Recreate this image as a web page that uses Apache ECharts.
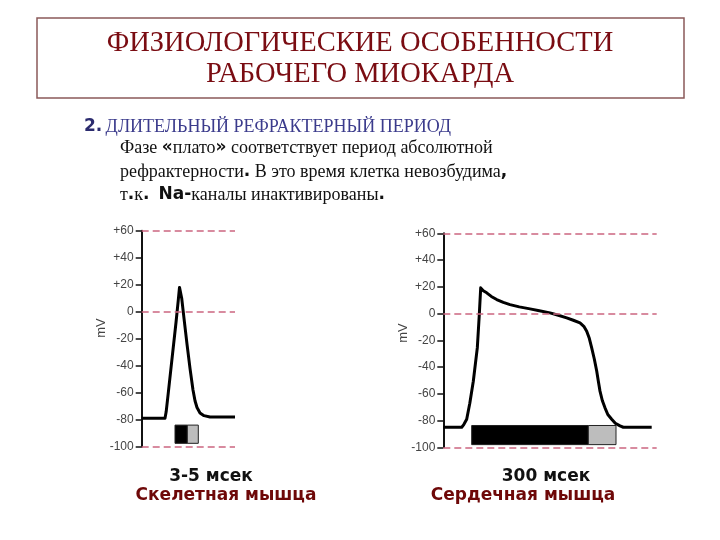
<!DOCTYPE html>
<html><head><meta charset="utf-8">
<script src="https://cdn.jsdelivr.net/npm/echarts@6/dist/echarts.min.js"></script>
<style>html,body{margin:0;padding:0;background:#fff}#c{width:720px;height:540px}</style>
</head><body><div id="c"></div>
<script>
// Y-axis ticks (mV)
var yTicks = [-100, -80, -60, -40, -20, 0, 20, 40, 60];
var dashedLevels = [60, 0, -100];

// Skeletal muscle action potential: time offset (arbitrary units), mV
var skelTime = [0, 23.3, 24.5, 26.3, 30.3, 34.3, 36.5, 37.8, 38.8, 40, 42.3, 45.3, 48.3, 51.3, 53.3, 55.3, 58.3, 62.3, 68.3, 93.3];
var skelMv   = [-79, -79, -74, -62, -35, -8, 8, 18, 18, 10, -5, -24, -42, -58, -66, -71, -75, -77, -78, -78];
// refractory bars: [xStart, xEnd, yTop, yBottom]
var skelAbs = [33.3, 45.6, -84, -97.5];
var skelRel = [45.6, 56.6, -84, -97.5];

// Cardiac muscle action potential
var cardTime = [0, 18.4, 20.5, 23.4, 26.5, 30, 34, 36, 37.4, 40, 43.4, 48, 53.4, 60, 66.7, 76, 86.7, 96, 106.7, 115, 123.4, 130, 136.7, 140.5, 143.4, 146, 148.4, 151, 153.4, 155, 156.7, 159, 161.7, 164.5, 168.4, 172, 176.7, 180, 208.4];
var cardMv   = [-85, -85, -83, -79, -67, -50.6, -25.7, -0.7, 19.2, 17, 15.5, 12.8, 10.5, 8.4, 6.7, 5, 3.5, 2.1, 0.5, -1.3, -3.2, -5, -7, -9.5, -13.2, -18.5, -25.7, -34, -43, -50.5, -58, -65, -70.5, -75.5, -79, -82, -84, -85, -85];
var cardAbs = [28.4, 145, -83.7, -98];
var cardRel = [145, 172.7, -83.7, -98];

function pairs(xs, ys){ return xs.map(function(x,i){return [x, ys[i]];}); }
function bar(b, color){
  return [{coord:[b[0], b[2]], itemStyle:{color:color, borderColor:'#222', borderWidth:1}}, {coord:[b[1], b[3]]}];
}
function yAx(idx){
  return {gridIndex: idx, type:'value', min:-100, max:60, interval:20,
    axisLine:{show:true, lineStyle:{color:'#111', width:2}},
    axisTick:{show:true, length:6, lineStyle:{color:'#111', width:1.5}},
    axisLabel:{margin:8, color:'#444', fontSize:12, fontFamily:'Liberation Sans',
      formatter:function(v){return v>0?('+'+v):String(v);}},
    splitLine:{show:false}};
}
function series(idx, data, bars){
  return {type:'line', xAxisIndex:idx, yAxisIndex:idx, data:data, symbol:'none',
    smooth:false,
    lineStyle:{color:'#000', width:3, join:'round'}, silent:true,
    markLine:{silent:true, symbol:'none', label:{show:false},
      lineStyle:{color:'#cc6680', type:[7,4], width:1.5},
      data: dashedLevels.map(function(v){return {yAxis:v};})},
    markArea:{silent:true, data:bars}};
}

var chart = echarts.init(document.getElementById('c'), null, {renderer:'canvas'});
var bodyFont = '18px "Liberation Serif"';
var boldP = {font:'bold 17px "DejaVu Sans"', fill:'#111'};
chart.setOption({
  animation:false,
  grid:[{left:141.7, top:230.7, width:93.3, height:216},
        {left:443.3, top:233.3, width:213.4, height:214}],
  xAxis:[{gridIndex:0, type:'value', min:0, max:93.3, show:false},
         {gridIndex:1, type:'value', min:0, max:213.4, show:false}],
  yAxis:[yAx(0), yAx(1)],
  series:[series(0, pairs(skelTime, skelMv), [bar(skelAbs,'#000'), bar(skelRel,'#bdbdbd')]),
          series(1, pairs(cardTime, cardMv), [bar(cardAbs,'#000'), bar(cardRel,'#bdbdbd')])],
  graphic:[
    {type:'rect', shape:{x:37, y:18, width:647, height:80}, style:{fill:'#fff', stroke:'#8a5a5a', lineWidth:1.5}},
    {type:'text', x:360, y:44, style:{text:'ФИЗИОЛОГИЧЕСКИЕ ОСОБЕННОСТИ', font:'28.5px "Liberation Serif"', fill:'#7a0c12', align:'center', verticalAlign:'middle'}},
    {type:'text', x:360, y:75, style:{text:'РАБОЧЕГО МИОКАРДА', font:'28.5px "Liberation Serif"', fill:'#7a0c12', align:'center', verticalAlign:'middle'}},
    {type:'text', x:84, y:127, style:{text:'{n|2.} {t|ДЛИТЕЛЬНЫЙ РЕФРАКТЕРНЫЙ ПЕРИОД}', verticalAlign:'middle',
      rich:{n:{font:'bold 17px "DejaVu Sans"', fill:'#2b2b6e'}, t:{font:'18px "Liberation Serif"', fill:'#3b3b8c'}}}},
    {type:'text', x:120, y:148, style:{text:'Фазе {b|«}плато{b|»} соответствует период абсолютной', font:bodyFont, fill:'#111', verticalAlign:'middle',
      rich:{b:boldP}}},
    {type:'text', x:120, y:172, style:{text:'рефрактерности{b|.} В это время клетка невозбудима{b|,}', font:bodyFont, fill:'#111', verticalAlign:'middle',
      rich:{b:boldP}}},
    {type:'text', x:120, y:195, style:{text:'т{b|.}к{b|.}  {b|Na-}каналы инактивированы{b|.}', font:bodyFont, fill:'#111', verticalAlign:'middle',
      rich:{b:boldP}}},
    {type:'text', x:101.7, y:328, rotation:Math.PI/2, style:{text:'mV', font:'13px "Liberation Sans"', fill:'#444', align:'center', verticalAlign:'middle'}},
    {type:'text', x:403, y:333, rotation:Math.PI/2, style:{text:'mV', font:'13px "Liberation Sans"', fill:'#444', align:'center', verticalAlign:'middle'}},
    {type:'text', x:211, y:477, style:{text:'3-5 мсек', font:'bold 17px "DejaVu Sans"', fill:'#111', align:'center', verticalAlign:'middle'}},
    {type:'text', x:226, y:496, style:{text:'Скелетная мышца', font:'bold 17px "DejaVu Sans"', fill:'#6e0808', align:'center', verticalAlign:'middle'}},
    {type:'text', x:546, y:477, style:{text:'300 мсек', font:'bold 17px "DejaVu Sans"', fill:'#111', align:'center', verticalAlign:'middle'}},
    {type:'text', x:523, y:496, style:{text:'Сердечная мышца', font:'bold 17px "DejaVu Sans"', fill:'#6e0808', align:'center', verticalAlign:'middle'}}
  ]
});
</script></body></html>
